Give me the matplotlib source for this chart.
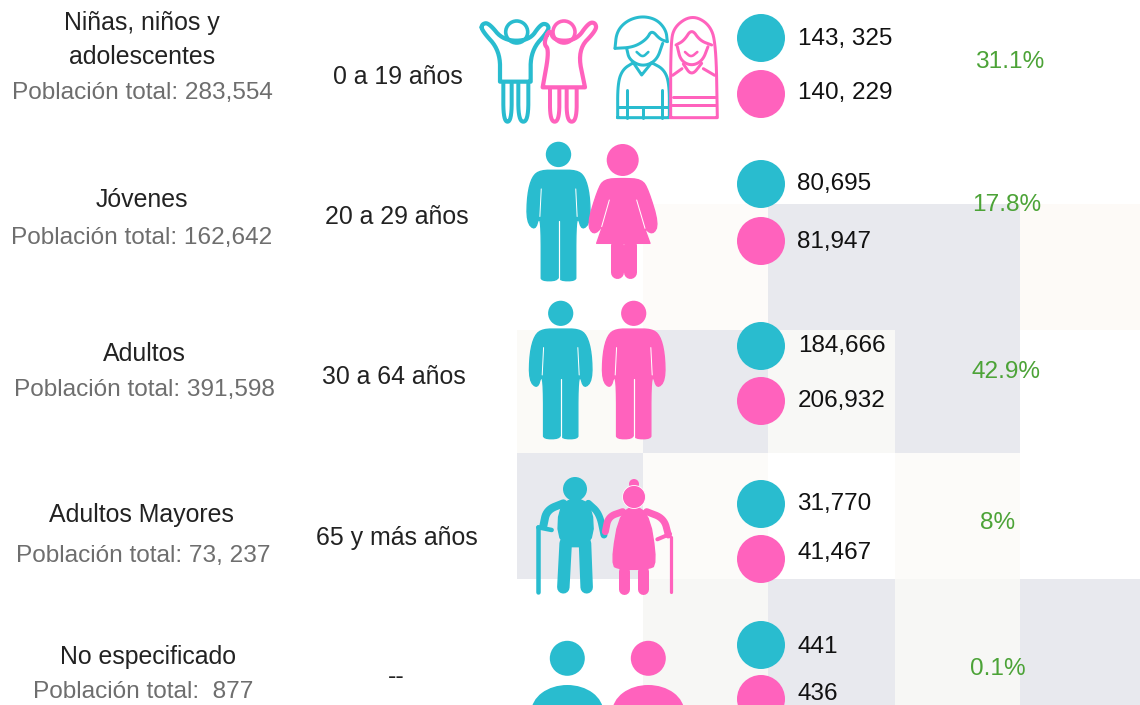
import numpy as np
import matplotlib
matplotlib.use('Agg')
import matplotlib.pyplot as plt
from matplotlib.patches import Circle, Ellipse, Polygon, Rectangle

group_names = ['Niñas, niños y\nadolescentes', 'Jóvenes', 'Adultos',
               'Adultos Mayores', 'No especificado']
total_labels = ['Población total: 283,554', 'Población total: 162,642',
                'Población total: 391,598', 'Población total: 73, 237',
                'Población total:  877']
age_ranges = ['0 a 19 años', '20 a 29 años', '30 a 64 años',
              '65 y más años', '--']
male_values = ['143, 325', '80,695', '184,666', '31,770', '441']
female_values = ['140, 229', '81,947', '206,932', '41,467', '436']
percents = ['31.1%', '17.8%', '42.9%', '8%', '0.1%']

TEAL = '#29bccf'
PINK = '#ff62bd'
GREEN = '#4ca337'
GREY = '#e8e9ee'

plt.rcParams['font.family'] = ['Liberation Sans', 'DejaVu Sans']

fig = plt.figure(figsize=(11.4, 7.05), dpi=100)
ax = fig.add_axes([0, 0, 1, 1])
ax.set_xlim(0, 1140)
ax.set_ylim(705, 0)
ax.axis('off')

# checker cells behind the numbers: x0, x1, y0, y1, colour
cells = [
    (643, 768, 204, 330, '#fdfbf9'), (768, 1020, 204, 330, GREY),
    (1020, 1140, 204, 330, '#fdfaf7'),
    (517, 643, 330, 453, '#fbfaf7'), (643, 768, 330, 453, GREY),
    (768, 895, 330, 453, '#f8f8f6'), (895, 1020, 330, 453, GREY),
    (517, 643, 453, 579, GREY), (643, 768, 453, 579, '#fcfbf9'),
    (895, 1020, 453, 579, '#fcfbf9'),
    (643, 768, 579, 705, '#f7f7f5'), (768, 895, 579, 705, GREY),
    (895, 1020, 579, 705, '#f7f7f5'), (1020, 1140, 579, 705, GREY),
]
for x0, x1, y0, y1, c in cells:
    ax.add_patch(Rectangle((x0, y0), x1 - x0, y1 - y0, fc=c, ec='none', zorder=0))


def soften(pts, close=False, n=3):
    # corner cutting, so the icon outlines come out round
    pts = np.array(pts, dtype=float)
    for _ in range(n):
        if close:
            a, b = pts, np.roll(pts, -1, axis=0)
            pts = np.column_stack([0.75 * a + 0.25 * b, 0.25 * a + 0.75 * b]).reshape(-1, 2)
        else:
            a, b = pts[:-1], pts[1:]
            mid = np.column_stack([0.75 * a + 0.25 * b, 0.25 * a + 0.75 * b]).reshape(-1, 2)
            pts = np.vstack([pts[:1], mid, pts[-1:]])
    return pts


def line(pts, color, width, close=False, z=3, smooth=True):
    if smooth and len(pts) > 2:
        pts = soften(pts, close)
    pts = np.array(pts, dtype=float)
    if close:
        pts = np.vstack([pts, pts[:1]])
    ax.plot(pts[:, 0], pts[:, 1], color=color, lw=width * 0.72,
            solid_capstyle='round', solid_joinstyle='round', zorder=z)


def shape(pts, color, z=3):
    ax.add_patch(Polygon(soften(pts, close=True, n=2), closed=True, fc=color, ec=color,
                         lw=1.0, joinstyle='round', zorder=z))


def crop1(pts):
    return [(470 + x / 3, y / 3) for x, y in pts]


def crop2(pts):
    return [(500 + x / 3, 290 + y / 3) for x, y in pts]


def ring(x, y, r, color, width=3.6):
    ax.add_patch(Circle((x, y), r, fc='none', ec=color, lw=width * 0.72, zorder=3))


def outline_children():
    boy = [(34, 90), (36, 72), (56, 68), (100, 122), (178, 122), (212, 72), (232, 72),
           (238, 90), (182, 152), (182, 245), (182, 245), (90, 245), (90, 245), (90, 152)]
    line(crop1(boy), TEAL, 4.2, close=True)
    line(crop1([(100, 250), (100, 365), (125, 365), (125, 250)]), TEAL, 4)
    line(crop1([(145, 250), (145, 365), (175, 365), (175, 250)]), TEAL, 4)
    ring(516.7, 32, 11, TEAL)
    girl = [(240, 85), (220, 130), (238, 150), (218, 262), (218, 262), (345, 262), (345, 262),
            (322, 150), (380, 90), (376, 68), (356, 68), (318, 122), (250, 122)]
    line(crop1(girl), PINK, 4.2, close=True)
    line(crop1([(240, 265), (240, 365), (268, 365), (268, 265)]), PINK, 4)
    line(crop1([(290, 265), (290, 365), (320, 365), (320, 265)]), PINK, 4)
    ring(564, 32, 11, PINK)


def outline_teens():
    line(crop1([(435, 145), (440, 95), (470, 62), (515, 48), (560, 58), (588, 90), (592, 125)]), TEAL, 3)
    line(crop1([(435, 145), (490, 142), (530, 118), (545, 90), (570, 118), (592, 125)]), TEAL, 3)
    line(crop1([(470, 145), (478, 180), (518, 200), (560, 182), (578, 130)]), TEAL, 3)
    line(crop1([(500, 156), (518, 172), (535, 156)]), TEAL, 2.6)
    line(crop1([(443, 353), (443, 250), (458, 208), (490, 188), (490, 188), (515, 225), (515, 225),
                (545, 188), (545, 188), (582, 208), (598, 250), (598, 353), (598, 353), (443, 353)]),
         TEAL, 3)
    line(crop1([(470, 270), (470, 353)]), TEAL, 3)
    line(crop1([(575, 270), (575, 353)]), TEAL, 3)
    line(crop1([(443, 320), (598, 320)]), TEAL, 3)
    line(crop1([(520, 322), (520, 353)]), TEAL, 3)
    line(crop1([(602, 353), (602, 135), (612, 80), (665, 45), (718, 72), (738, 130),
                (742, 353), (742, 353), (602, 353)]), PINK, 3)
    line(crop1([(618, 135), (642, 122), (665, 86), (690, 122), (725, 135)]), PINK, 3)
    line(crop1([(622, 140), (632, 182), (665, 198), (698, 182), (714, 140)]), PINK, 3)
    line(crop1([(640, 192), (665, 228), (695, 190)]), PINK, 3)
    line(crop1([(645, 156), (663, 172), (682, 156)]), PINK, 2.6)
    line(crop1([(608, 226), (636, 206)]), PINK, 3)
    line(crop1([(734, 226), (700, 206)]), PINK, 3)
    line(crop1([(610, 290), (735, 290)]), PINK, 3)
    line(crop1([(605, 315), (738, 315)]), PINK, 3)


def man(cx, top, bottom, color):
    # standing figure drawn from a unit shape, 1 unit = height of the figure
    h = bottom - top
    right = [(0.0, 0.205), (0.13, 0.205), (0.19, 0.25), (0.225, 0.38), (0.23, 0.58),
             (0.17, 0.64), (0.14, 0.54), (0.125, 0.62), (0.125, 0.96), (0.125, 1.005),
             (0.01, 1.005), (0.0, 0.96)]
    left = [(-x, y) for x, y in right[::-1]]
    pts = [(cx + x * h, top + y * h) for x, y in right + left]
    shape(pts, color)
    ax.add_patch(Circle((cx, top + 0.09 * h), 0.092 * h, fc=color, ec='none', zorder=3))
    line([(cx, top + 0.57 * h), (cx, bottom + 1)], 'white', 1.2, z=4)
    for s in (-1, 1):
        line([(cx + s * 0.125 * h, top + 0.34 * h), (cx + s * 0.135 * h, top + 0.54 * h)],
             'white', 1.0, z=4)


def woman():
    pts = crop1([(458, 535), (515, 538), (535, 570), (566, 672), (548, 705), (518, 680),
                 (498, 615), (540, 730), (540, 730), (380, 730), (380, 730), (420, 615),
                 (398, 680), (370, 705), (352, 672), (383, 570), (402, 538)])
    shape(pts, PINK)
    ax.add_patch(Circle((622.7, 160), 16, fc=PINK, ec='none', zorder=3))
    line(crop1([(440, 735), (440, 815)]), PINK, 13)
    line(crop1([(480, 735), (480, 815)]), PINK, 13)
    line(crop1([(418, 600), (395, 680)]), 'white', 1.0, z=4)
    line(crop1([(500, 600), (525, 685)]), 'white', 1.0, z=4)


def elders():
    ax.add_patch(Circle((575, 489), 12, fc=TEAL, ec='none', zorder=4))
    shape(crop2([(178, 628), (275, 628), (282, 770), (172, 770)]), TEAL)
    line(crop2([(190, 640), (140, 660), (130, 708)]), TEAL, 8)
    line(crop2([(265, 640), (298, 670), (312, 735)]), TEAL, 7)
    line(crop2([(115, 712), (115, 905)]), TEAL, 4.5)
    line(crop2([(115, 712), (155, 720)]), TEAL, 4.5)
    line(crop2([(197, 760), (190, 892)]), TEAL, 12.5)
    line(crop2([(255, 760), (260, 892)]), TEAL, 12.5)
    ax.add_patch(Circle((634, 484), 5, fc=PINK, ec='none', zorder=4))
    ax.add_patch(Circle((634, 497), 11.5, fc=PINK, ec='white', lw=0.6, zorder=5))
    shape(crop2([(362, 652), (444, 652), (472, 825), (440, 838), (362, 838), (332, 825)]), PINK, z=4)
    line(crop2([(368, 665), (325, 680), (316, 725)]), PINK, 7)
    line(crop2([(440, 665), (492, 685), (505, 735)]), PINK, 7)
    line(crop2([(513, 740), (513, 905)]), PINK, 3.2)
    line(crop2([(472, 748), (510, 732)]), PINK, 4)
    line(crop2([(373, 842), (373, 897)]), PINK, 11)
    line(crop2([(430, 842), (430, 897)]), PINK, 11)


def bust(cx, color):
    ax.add_patch(Circle((cx, 658.3), 17.5, fc=color, ec='none', zorder=3))
    ax.add_patch(Ellipse((cx, 712), 72, 54, fc=color, ec='none', zorder=3))


outline_children()
outline_teens()
man(558.5, 142, 280, TEAL)
woman()
man(560.7, 301, 438, TEAL)
man(633.7, 301, 438, PINK)
elders()
bust(567.3, TEAL)
bust(648.3, PINK)

# label positions in pixels, one entry per row
name_x = [142, 142, 144, 141, 148]
name_y = [39, 199, 353, 514, 656]
total_x = [142, 142, 144, 143, 143]
total_y = [92, 237, 389, 555, 691]
age_x = [398, 397, 394, 397, 396]
age_y = [76, 216, 376, 537, 676]
pct_x = [1010, 1007, 1006, 998, 998]
pct_y = [61, 204, 371, 522, 668]
value_x = [798, 797, 798, 797, 797]
male_y = [38, 183, 345, 503, 646]
female_y = [92, 241, 400, 552, 693]
male_dot_y = [38, 184, 346, 504, 645]
female_dot_y = [94, 241, 401, 559, 699]

for i in range(len(group_names)):
    ax.text(name_x[i], name_y[i] + 1, group_names[i], ha='center', va='center', fontsize=17.9,
            color='#222222', linespacing=1.55, zorder=6)
    ax.text(total_x[i], total_y[i] + 1, total_labels[i], ha='center', va='center', fontsize=17.6,
            color='#6e6e6e', zorder=6)
    ax.text(age_x[i], age_y[i] + 1, age_ranges[i], ha='center', va='center', fontsize=17.9,
            color='#222222', zorder=6)
    ax.text(pct_x[i], pct_y[i] + 1, percents[i], ha='center', va='center', fontsize=17.6,
            color=GREEN, zorder=6)
    ax.add_patch(Circle((761, male_dot_y[i]), 24, fc=TEAL, ec='none', zorder=3))
    ax.add_patch(Circle((761, female_dot_y[i]), 24, fc=PINK, ec='none', zorder=3))
    ax.text(value_x[i], male_y[i] + 1, male_values[i], ha='left', va='center', fontsize=17.5,
            color='#111111', zorder=6)
    ax.text(value_x[i], female_y[i] + 1, female_values[i], ha='left', va='center', fontsize=17.5,
            color='#111111', zorder=6)

fig.savefig('out.png', dpi=100)
